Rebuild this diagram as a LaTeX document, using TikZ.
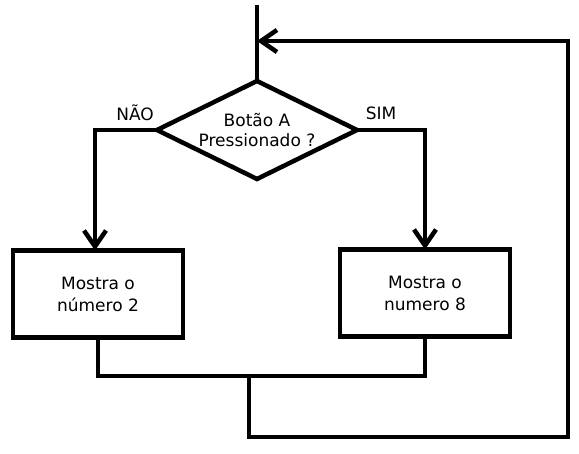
\documentclass[tikz,border=0pt]{standalone}
\usepackage{fontspec}
\setmainfont{DejaVu Sans}
\usepackage{tikz}
\usetikzlibrary{arrows.meta,shapes.geometric}

\begin{document}
\begin{tikzpicture}[x=1pt, y=-1pt,
  flow/.style={line width=4.5pt},
  arr/.style={flow, -{Straight Barb[length=16pt, width=22pt, line width=4.5pt]}},
  decision/.style={diamond, aspect=2, draw, line width=4.5pt, minimum width=200pt, minimum height=98pt, inner sep=0pt, outer sep=0pt, align=center, font=\fontsize{17}{20}\selectfont},
  box/.style={rectangle, draw, line width=4.5pt, minimum width=170pt, minimum height=87pt, inner sep=0pt, outer sep=0pt, align=center, font=\fontsize{17}{22}\selectfont},
  lbl/.style={font=\fontsize{17}{20}\selectfont}
]
  \useasboundingbox (0,0) rectangle (579,454);

  \node[decision] (dec) at (257,130) {Botão A\\Pressionado ?};
  \node[box] (num2) at (98,294) {Mostra o\\número 2};
  \node[box] (num8) at (425,293) {Mostra o\\numero 8};

  \node[lbl] (nao) at (135,113) {NÃO};
  \node[lbl] (sim) at (381,113) {SIM};

  \coordinate (start) at (257,5);
  \coordinate (back) at (257,41);
  \coordinate (merge) at (249,376);
  \coordinate (loopR) at (568,437);

  \draw[flow] (start) -- (dec.north);
  \draw[arr] (dec.west) -| ([xshift=-3pt]num2.north);
  \draw[arr] (dec.east) -| (num8.north);
  \draw[flow] (num2.south) |- (merge) -| (num8.south);
  \draw[arr] (merge) |- (loopR) |- (back);
\end{tikzpicture}
\end{document}
